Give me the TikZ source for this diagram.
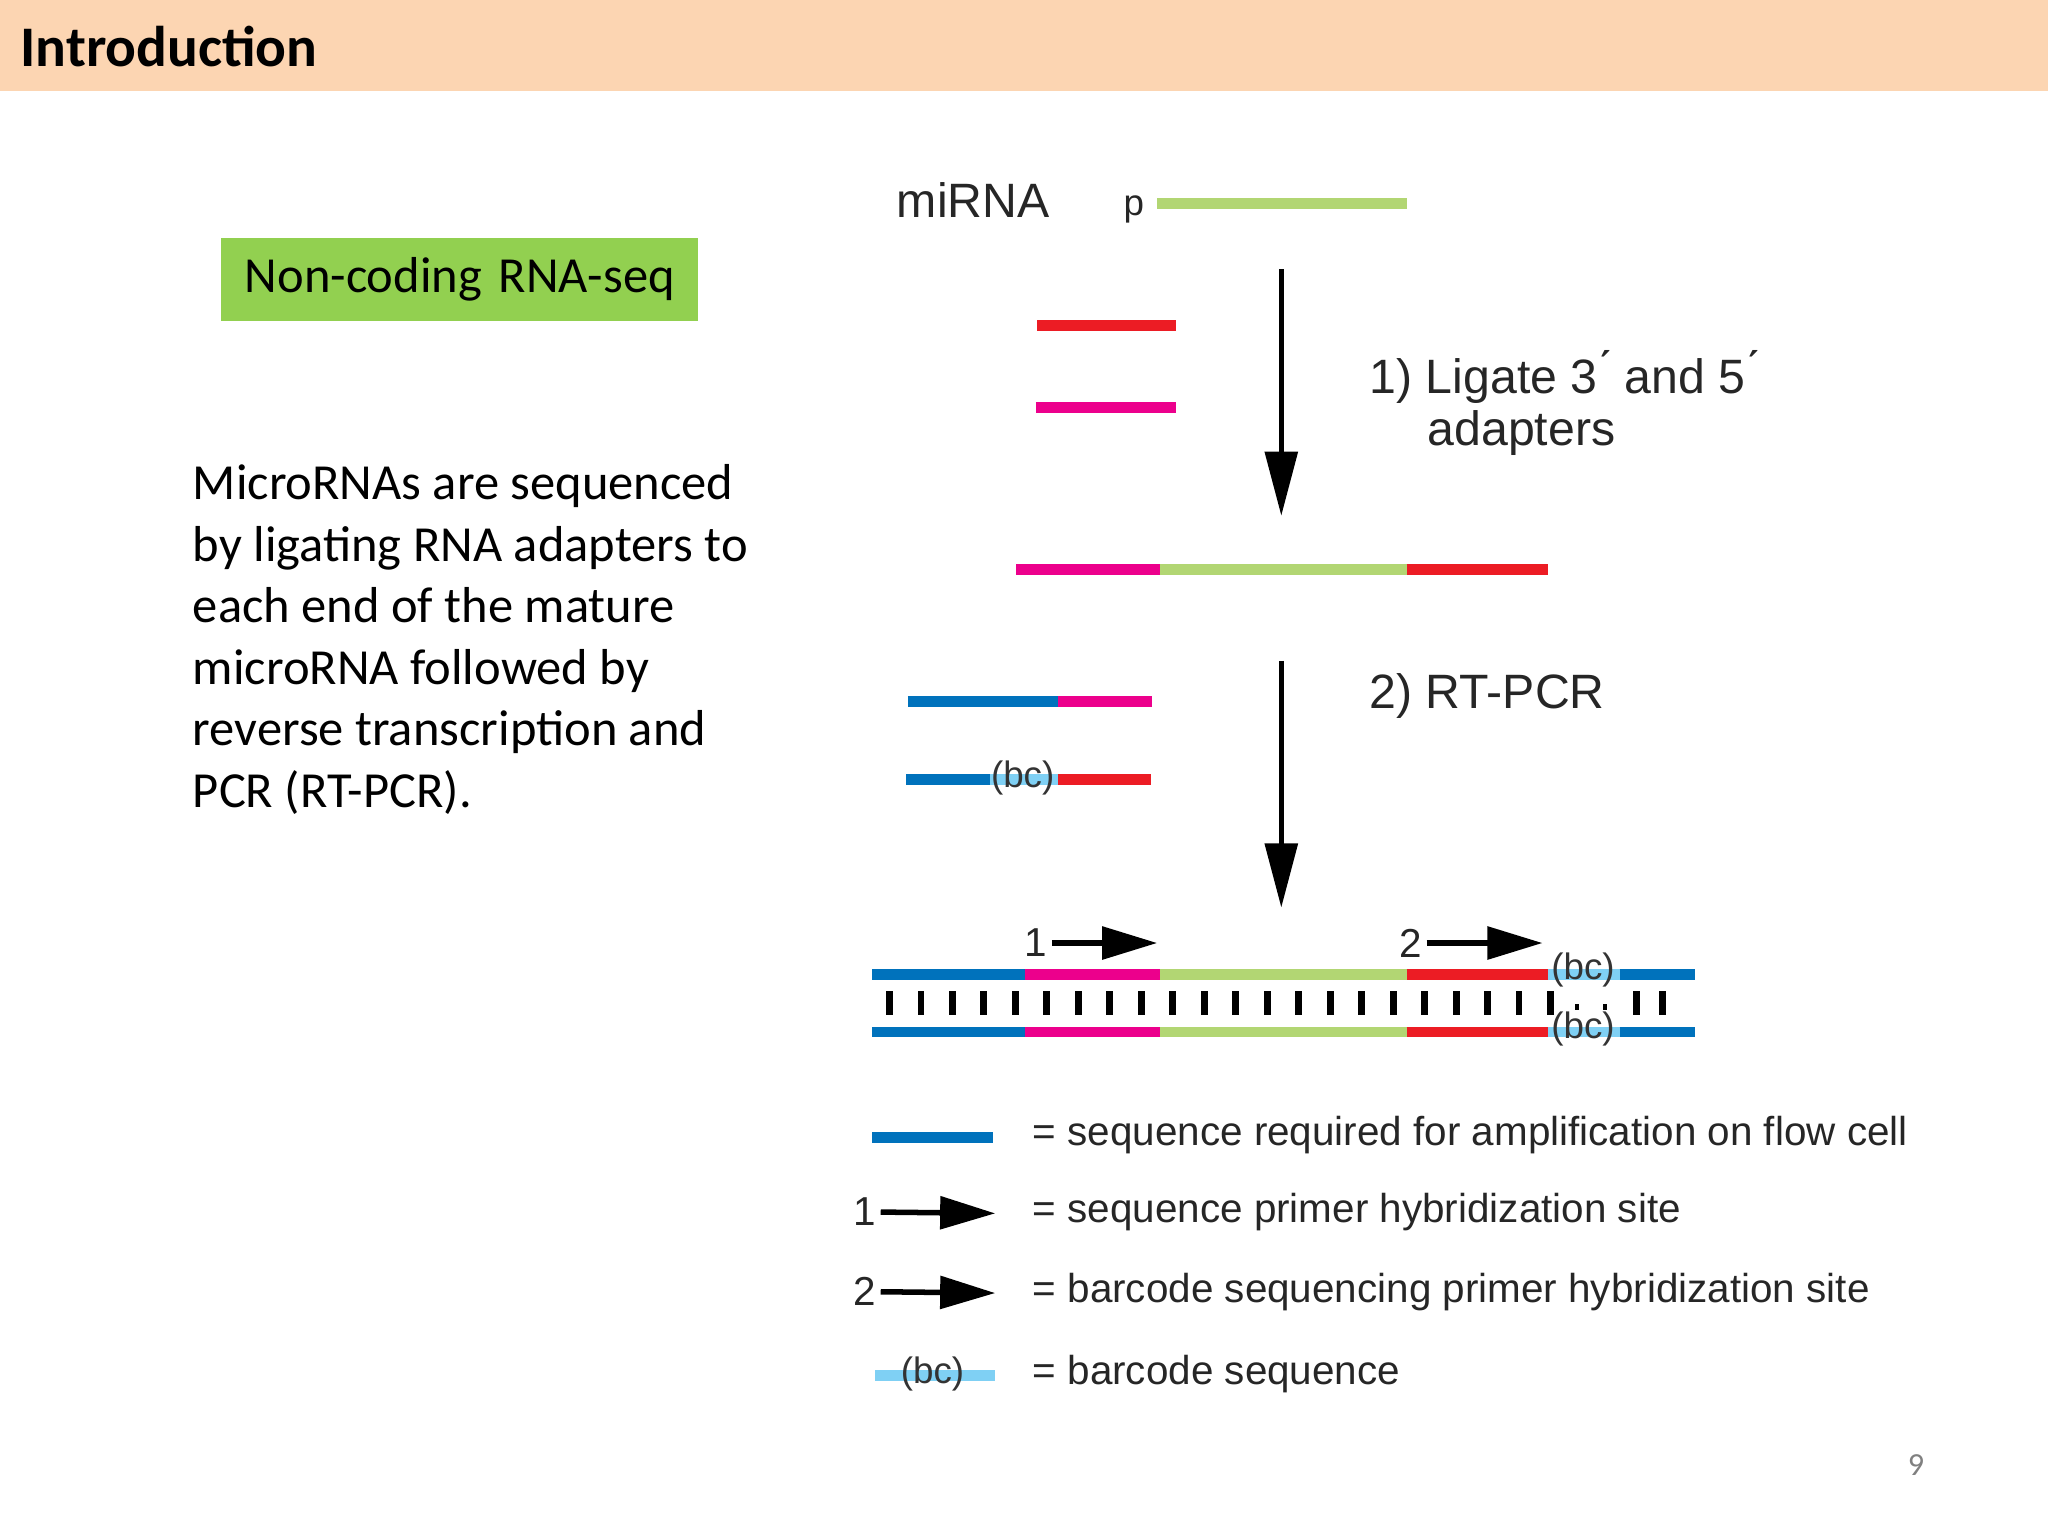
\documentclass[tikz,border=0pt]{standalone}
\usepackage{fontspec}
\setmainfont{Carlito}
\newfontfamily\dgm{Liberation Sans}
\usetikzlibrary{arrows,arrows.meta,calc,positioning}
\definecolor{hdr}{HTML}{FCD5B2}
\definecolor{boxgreen}{HTML}{92D050}
\definecolor{mirgreen}{HTML}{B2D673}
\definecolor{adred}{HTML}{EC1C24}
\definecolor{admag}{HTML}{EC008C}
\definecolor{ampblue}{HTML}{0072BC}
\definecolor{bclight}{HTML}{7FD0F4}
\newcommand{\strand}[4]{\draw[seg, #1] (#2,#4) -- (#3,#4);}
\begin{document}
\begin{tikzpicture}[
    x=0.01cm, y=-0.01cm,
    seg/.style={line width=2.3pt},
    dlab/.style={font=\dgm\fontsize{10.5}{11.3}\selectfont, text=black!85, inner sep=0},
    leg/.style={font=\dgm\fontsize{8.8}{10}\selectfont, text=black!85, inner sep=0, anchor=west},
    bctxt/.style={font=\dgm\fontsize{8}{9}\selectfont, text=black!80, inner sep=0},
    bigarrow/.style={line width=1.2pt, -{Triangle[width=7pt,length=14pt]}},
    primer/.style={line width=1.2pt, -{Triangle[width=7pt,length=12pt]}}]
\useasboundingbox (0,0) rectangle (1568,1176);
% header
\fill[hdr] (0,0) rectangle (1568,70);
\node[anchor=west, font=\bfseries\fontsize{12.5}{14}\selectfont, inner sep=0] (title) at (15,36) {Introduction};
\node[fill=boxgreen, font=\fontsize{11}{13}\selectfont, text width=3.65cm, align=center, minimum height=0.63cm, inner sep=0] (tag) at (352,214) {Non-coding RNA-seq};
\node[anchor=north west, align=left, font=\fontsize{11}{13.4}\selectfont, inner sep=0] (body) at (147,355)
  {MicroRNAs are sequenced\\by ligating RNA adapters to\\each end of the mature\\microRNA followed by\\reverse transcription and\\PCR (RT-PCR).};
\node[font=\fontsize{7}{8}\selectfont, text=black!50] (page) at (1467,1122) {9};

% step 1
\node[dlab, anchor=west] (mirna) at (686,153) {miRNA};
\node[dlab, font=\dgm\fontsize{8}{9}\selectfont] (p) at (868,160) {p};
\strand{mirgreen}{886}{1077}{156}
\strand{adred}{794}{900}{249}
\strand{admag}{793}{900}{312}
\coordinate (a1s) at (981,206);
\coordinate (a1e) at (981,395);
\draw[bigarrow] (a1s) -- (a1e);
\node[dlab, anchor=north west, align=left] (step1) at (1048,268) {1) Ligate 3\'{} and 5\'{}\\\hspace{1.2em}adapters};

% ligated product
\strand{admag}{778}{888}{436}
\strand{mirgreen}{888}{1077}{436}
\strand{adred}{1077}{1185}{436}

% step 2 primers
\strand{ampblue}{695}{810}{537}
\strand{admag}{810}{882}{537}
\strand{ampblue}{694}{758}{597}
\strand{bclight}{758}{810}{597}
\strand{adred}{810}{881}{597}
\node[bctxt] (bc0) at (783,596) {(bc)};
\coordinate (a2s) at (981,506);
\coordinate (a2e) at (981,695);
\draw[bigarrow] (a2s) -- (a2e);
\node[dlab, anchor=west] (step2) at (1048,533) {2) RT-PCR};

% duplex
\foreach \yy in {746,790}{
  \strand{ampblue}{668}{785}{\yy}
  \strand{admag}{785}{888}{\yy}
  \strand{mirgreen}{888}{1077}{\yy}
  \strand{adred}{1077}{1185}{\yy}
  \strand{bclight}{1185}{1240}{\yy}
  \strand{ampblue}{1240}{1298}{\yy}
}
\node[bctxt] (bc1) at (1212,743) {(bc)};
\node[bctxt] (bc2) at (1212,788) {(bc)};
\foreach \i in {0,...,21}
  \draw[line width=1.5pt] ({681+\i*24.1},759) -- ({681+\i*24.1},777);
\foreach \xx in {1206,1227}
  \fill (\xx,769) rectangle ++(3,4);
\foreach \xx in {1253,1273}
  \draw[line width=1.5pt] (\xx,759) -- (\xx,777);
\node[dlab, font=\dgm\fontsize{8.8}{10}\selectfont] (n1) at (793,722) {1};
\coordinate (p1e) at (886,722);
\draw[primer] (n1.east) ++(3,0) -- (p1e);
\node[dlab, font=\dgm\fontsize{8.8}{10}\selectfont] (n2) at (1080,722) {2};
\coordinate (p2e) at (1181,722);
\draw[primer] (n2.east) ++(3,0) -- (p2e);

% legend
\strand{ampblue}{668}{760}{871}
\node[leg] (l1) at (790,869) {= sequence required for amplification on flow cell};
\node[dlab, font=\dgm\fontsize{8.8}{10}\selectfont] (ln1) at (662,928) {1};
\coordinate (lp1) at (762,929);
\draw[primer] (ln1.east) ++(3,0) -- (lp1);
\node[leg] (l2) at (790,928) {= sequence primer hybridization site};
\node[dlab, font=\dgm\fontsize{8.8}{10}\selectfont] (ln2) at (662,989) {2};
\coordinate (lp2) at (762,990);
\draw[primer] (ln2.east) ++(3,0) -- (lp2);
\node[leg] (l3) at (790,989) {= barcode sequencing primer hybridization site};
\strand{bclight}{670}{762}{1053}
\node[bctxt] (bc3) at (714,1052) {(bc)};
\node[leg] (l4) at (790,1052) {= barcode sequence};
\end{tikzpicture}
\end{document}
